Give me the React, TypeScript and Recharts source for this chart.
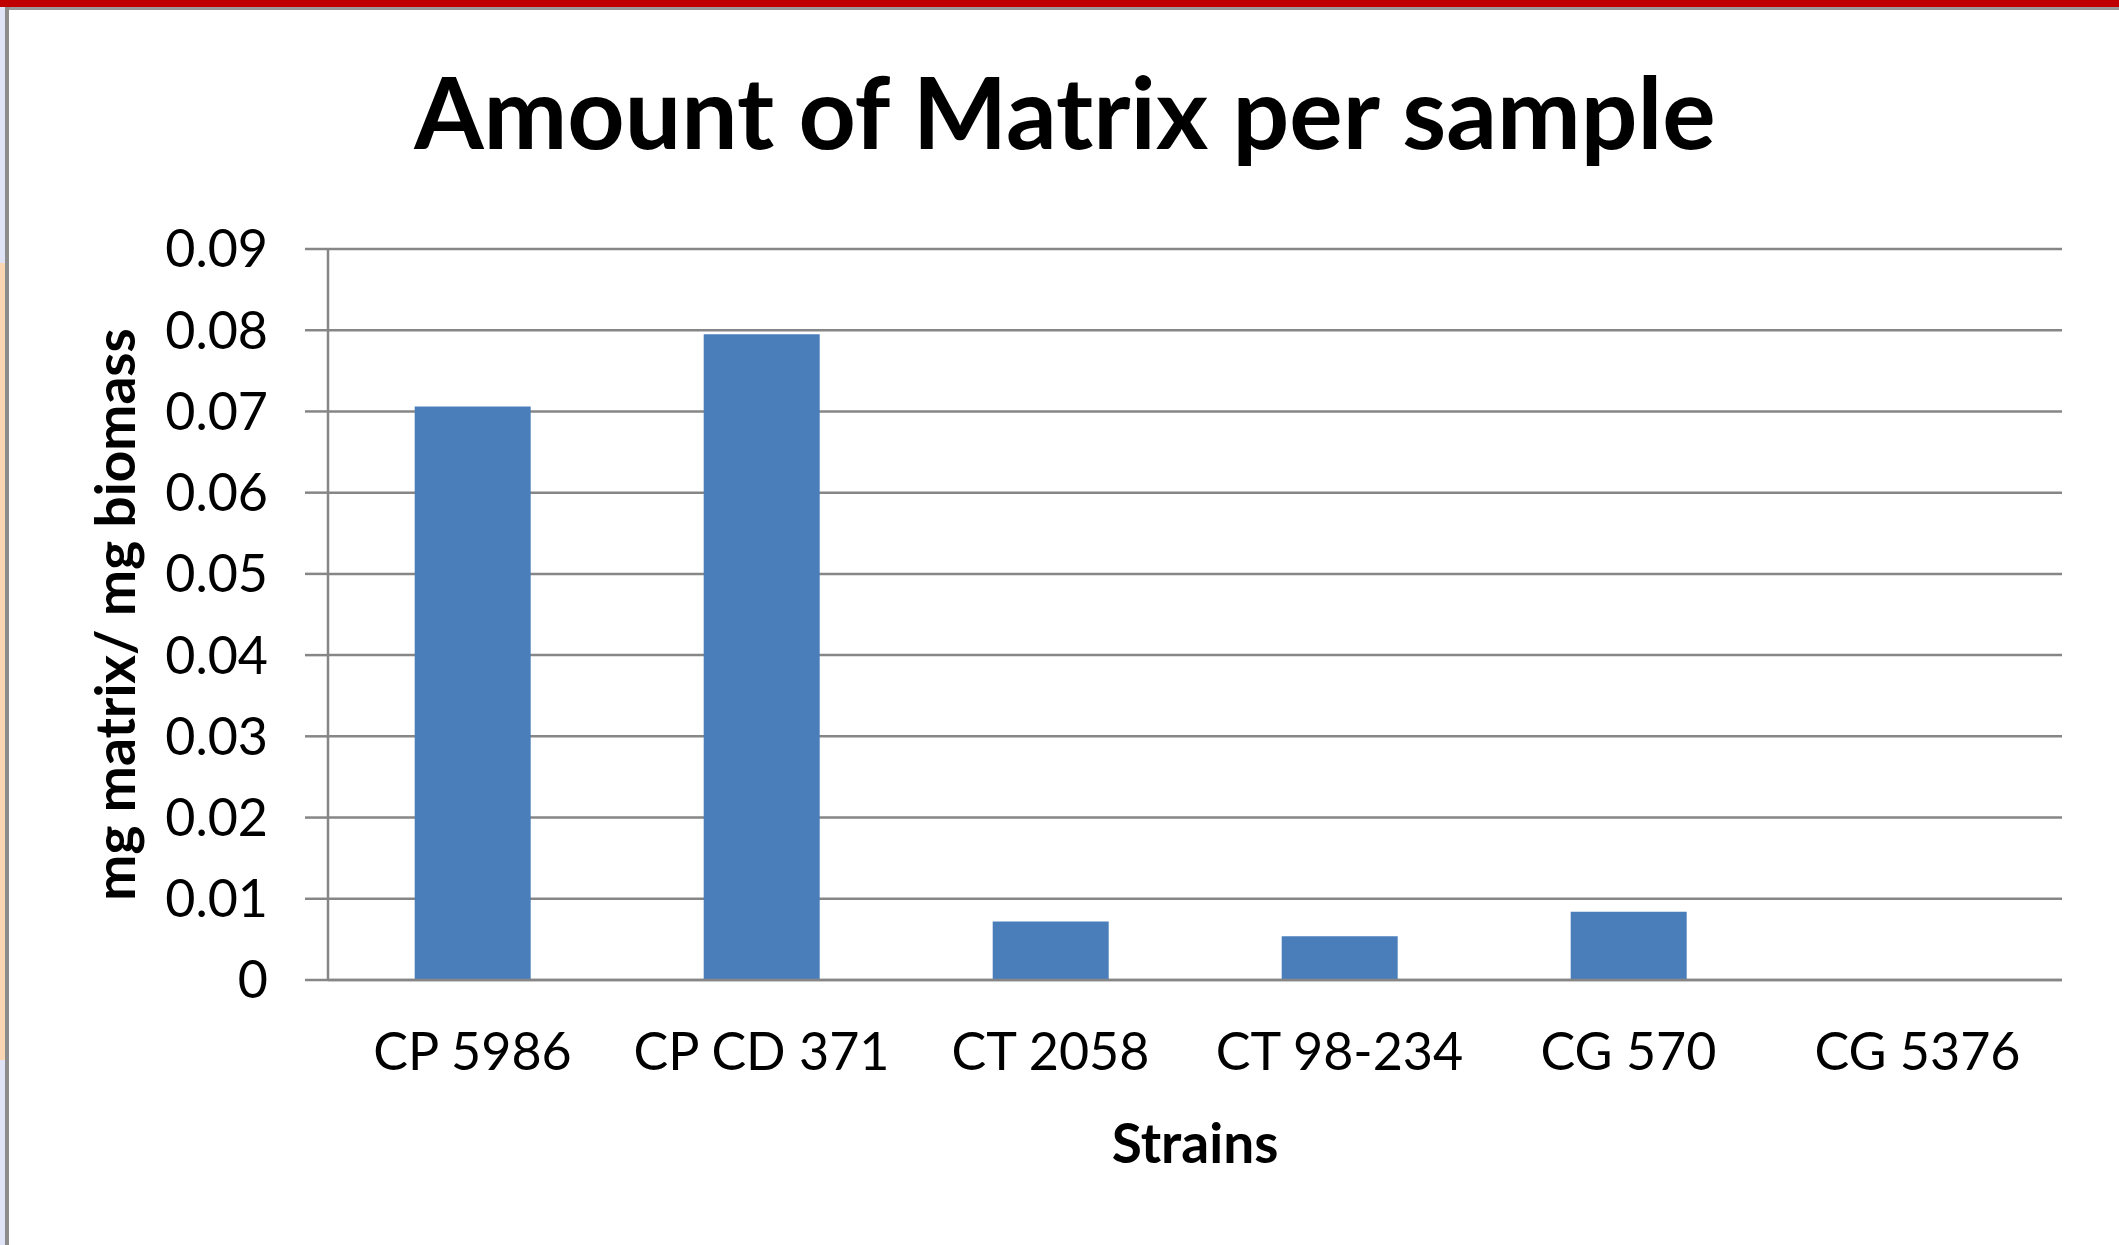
import React from "react";
import { BarChart, Bar, XAxis, YAxis, CartesianGrid } from "recharts";

const strains = ["CP 5986", "CP CD 371", "CT 2058", "CT 98-234", "CG 570", "CG 5376"];
const matrixValues = [0.0706, 0.0795, 0.0072, 0.0054, 0.0084, 0];
const yTicks = [0, 0.01, 0.02, 0.03, 0.04, 0.05, 0.06, 0.07, 0.08, 0.09];

const titleText = "Amount of Matrix per sample";
const xTitle = "Strains";
const yTitle = "mg matrix/ mg biomass";

const data = strains.map((s, i) => ({ strain: s, value: matrixValues[i] }));

const FONT = "Lato, 'Open Sans', sans-serif";
const GRID = "#868686";

const YLabel = (props: any) => {
  const vb = props.viewBox || { y: 249, height: 731 };
  const cx = 135;
  const cy = vb.y + vb.height / 2;
  return (
    <text
      x={cx}
      y={cy}
      transform={`rotate(-90, ${cx}, ${cy})`}
      textAnchor="middle"
      fontFamily={FONT}
      fontWeight={700}
      fontSize={55}
      fill="#000"
    >
      {yTitle}
    </text>
  );
};

const XLabel = (props: any) => {
  const vb = props.viewBox || { x: 328, width: 1734, y: 980 };
  const cx = vb.x + vb.width / 2;
  return (
    <text x={cx} y={1163} textAnchor="middle" fontFamily={FONT} fontWeight={700} fontSize={55} fill="#000">
      {xTitle}
    </text>
  );
};

export default function App() {
  return (
    <div style={{ position: "absolute", left: 0, top: 0, width: 2119, height: 1245, background: "#fff", overflow: "hidden" }}>
      <BarChart
        width={2119}
        height={1245}
        data={data}
        margin={{ top: 249, right: 57, left: 0, bottom: 0 }}
        barCategoryGap="30%"
      >
        <CartesianGrid vertical={false} stroke={GRID} strokeWidth={2.5} />
        <XAxis
          dataKey="strain"
          height={265}
          tickLine={false}
          tickSize={0}
          tickMargin={53}
          axisLine={{ stroke: GRID, strokeWidth: 2.5 }}
          tick={{ fontFamily: FONT, fontSize: 52, fill: "#000" }}
          interval={0}
          label={<XLabel />}
        />
        <YAxis
          width={328}
          domain={[0, 0.09]}
          ticks={yTicks}
          interval={0}
          tickSize={23}
          tickMargin={37}
          tickLine={{ stroke: GRID, strokeWidth: 2.5 }}
          axisLine={{ stroke: GRID, strokeWidth: 2.5 }}
          tick={{ fontFamily: FONT, fontSize: 52, fill: "#000" }}
          tickFormatter={(v: number) => (v === 0 ? "0" : v.toFixed(2))}
          label={<YLabel />}
        />
        <Bar dataKey="value" fill="#4A7EBB" isAnimationActive={false} />
      </BarChart>
      <svg width={2119} height={1245} style={{ position: "absolute", left: 0, top: 0, pointerEvents: "none" }}>
        <rect x={0} y={0} width={2119} height={7} fill="#c00000" />
        <rect x={5} y={7} width={2114} height={3} fill="#9a9a9a" />
        <rect x={0} y={7} width={5} height={1238} fill="#dfe3f5" />
        <rect x={0} y={263} width={5} height={797} fill="#fbd6b3" />
        <rect x={5} y={7} width={4} height={1238} fill="#8c8c8c" />
        <text x={1065} y={149} textAnchor="middle" fontFamily={FONT} fontWeight={700} fontSize={100} fill="#000">
          {titleText}
        </text>
      </svg>
    </div>
  );
}
